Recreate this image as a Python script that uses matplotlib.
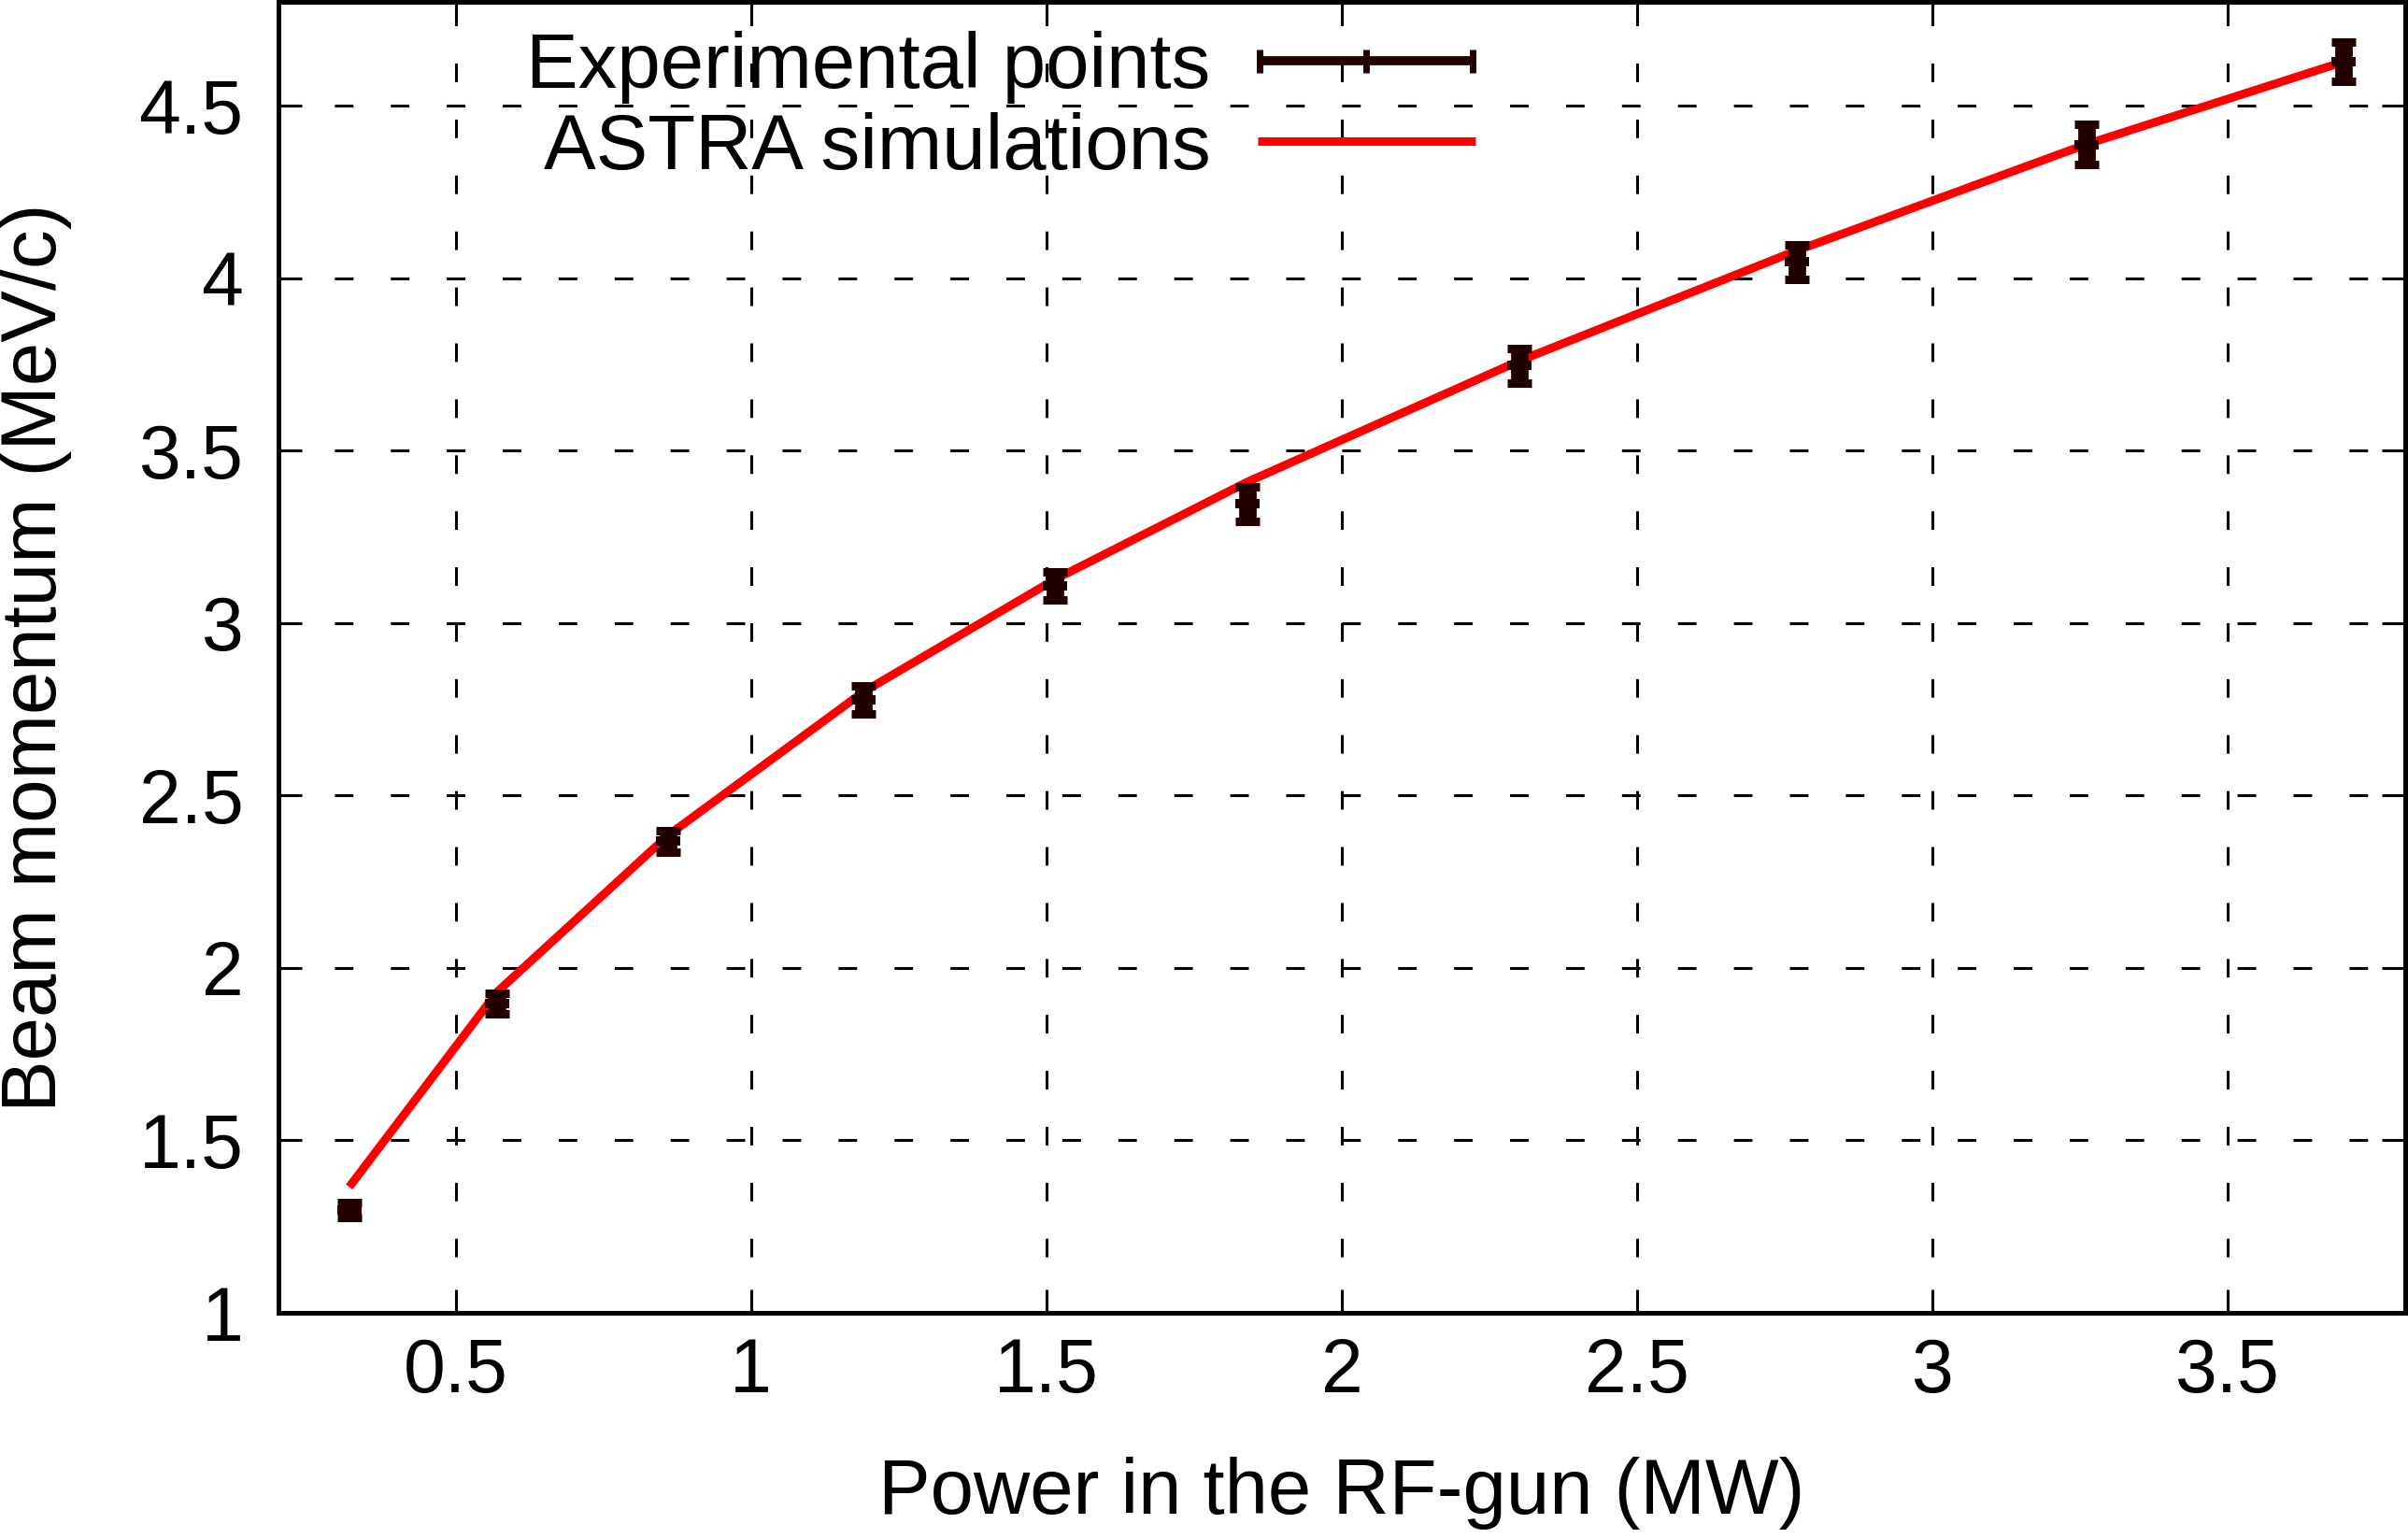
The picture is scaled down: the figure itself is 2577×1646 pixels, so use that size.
import matplotlib
matplotlib.use("Agg")
import matplotlib.pyplot as plt
from matplotlib.lines import Line2D
from matplotlib.legend_handler import HandlerBase
from matplotlib.container import ErrorbarContainer

# ---------------- Data ----------------
power_mw = [0.32, 0.57, 0.86, 1.19, 1.515, 1.84, 2.30, 2.77, 3.26, 3.695]
momentum_exp = [1.298, 1.898, 2.367, 2.777, 3.108, 3.346, 3.747, 4.047, 4.388, 4.627]
momentum_err = [0.022, 0.03, 0.03, 0.04, 0.04, 0.05, 0.05, 0.05, 0.057, 0.057]
momentum_astra = [1.365, 1.93, 2.385, 2.80, 3.127, 3.409, 3.76, 4.08, 4.388, 4.627]

x_ticks = [0.5, 1, 1.5, 2, 2.5, 3, 3.5]
x_tick_labels = ["0.5", "1", "1.5", "2", "2.5", "3", "3.5"]
y_ticks = [1, 1.5, 2, 2.5, 3, 3.5, 4, 4.5]
y_tick_labels = ["1", "1.5", "2", "2.5", "3", "3.5", "4", "4.5"]

pt_color = "#220000"
sim_color = "#ff0000"
fs_tick = 58
fs_text = 60

plt.rcParams["font.family"] = ["Liberation Sans", "DejaVu Sans"]
plt.rcParams["font.size"] = fs_text


class GnuplotErrHandler(HandlerBase):
    # gnuplot-style key sample: horizontal bar with end caps and a centre tick
    def create_artists(self, legend, orig_handle, xdescent, ydescent,
                       width, height, fontsize, trans):
        y = height / 2 - ydescent
        x0 = -xdescent
        x1 = x0 + width
        bar = Line2D([x0, x1], [y, y], color=pt_color, lw=7,
                     solid_capstyle="butt", transform=trans)
        caps = Line2D([x0 + 2, (x0 + x1) / 2, x1 - 2], [y, y, y], ls="none",
                      marker="|", ms=18, mew=5, color=pt_color, transform=trans)
        return [bar, caps]


fig = plt.figure(figsize=(25.77, 16.46), dpi=100)
ax = fig.add_axes([0.1156, 0.1464, 0.8832, 0.8521])

# flat rectangle marker (the centre of gnuplot's point)
rect = [(-1, -0.385), (1, -0.385), (1, 0.385), (-1, 0.385), (-1, -0.385)]

sim_line, = ax.plot(power_mw, momentum_astra, color=sim_color, lw=6.5,
                    solid_capstyle="butt", zorder=3, label="ASTRA simulations")
exp = ax.errorbar(power_mw, momentum_exp, yerr=momentum_err, fmt="none",
                  ecolor=pt_color, elinewidth=13.5, capsize=9.3, capthick=6.5,
                  zorder=4, label="Experimental points")
ax.plot(power_mw, momentum_exp, ls="none", marker=rect, ms=18.7,
        color=pt_color, mec=pt_color, mew=0, zorder=5)

ax.set_xlim(0.2, 3.8)
ax.set_ylim(1, 4.8)
ax.set_xticks(x_ticks)
ax.set_xticklabels(x_tick_labels)
ax.set_yticks(y_ticks)
ax.set_yticklabels(y_tick_labels)

ax.tick_params(axis="both", direction="in", length=18, width=2.2,
               top=True, right=True, labelsize=fs_tick)
ax.tick_params(axis="x", pad=19)
ax.tick_params(axis="y", pad=27)
for sp in ax.spines.values():
    sp.set_linewidth(3.6)

ax.grid(True, color="black", lw=2.2, linestyle=(0, (6.5, 13.1)))
ax.set_axisbelow(True)

ax.set_xlabel("Power in the RF-gun (MW)", fontsize=fs_text)
ax.set_ylabel("Beam momentum (MeV/c)", fontsize=fs_text)
ax.xaxis.set_label_coords(0.5, -0.110)
ax.yaxis.set_label_coords(-0.097, 0.5)

leg = ax.legend([exp, sim_line], ["Experimental points", "ASTRA simulations"],
                handler_map={ErrorbarContainer: GnuplotErrHandler()},
                loc="upper right", bbox_to_anchor=(0.5628, 0.978),
                borderaxespad=0, borderpad=0, frameon=False, markerfirst=False,
                handlelength=2.8, handletextpad=0.6, labelspacing=0.1,
                fontsize=fs_text)
for t in leg.get_texts():
    t.set_ha("right")

fig.savefig("out.png", dpi=100, facecolor="white")
